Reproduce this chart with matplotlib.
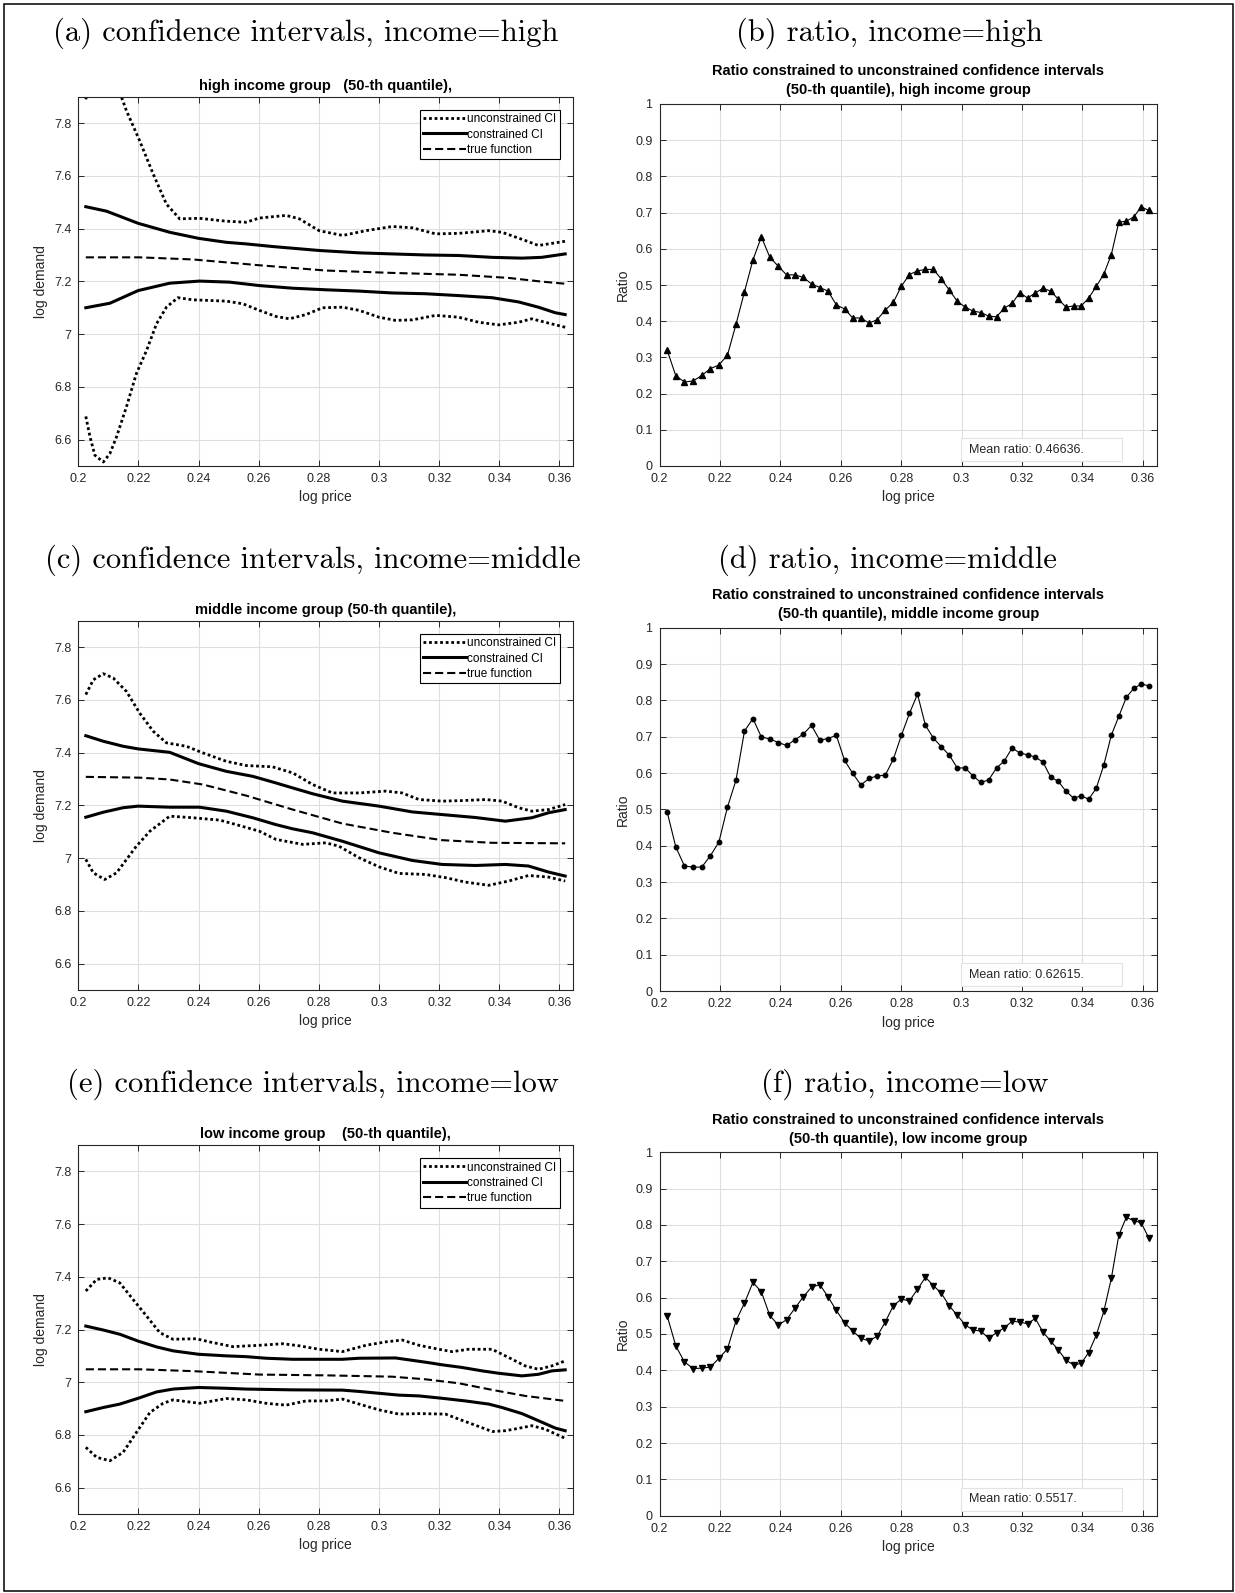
import numpy as np
import matplotlib
matplotlib.use("Agg")
import matplotlib.pyplot as plt
from matplotlib.ticker import FuncFormatter
from matplotlib.patches import Rectangle

plt.rcParams['font.family'] = ['Liberation Sans', 'DejaVu Sans']

# ---- confidence bands (log demand vs log price), knots read per curve ----
hi_cu_x = [0.2025, 0.2094, 0.2199, 0.2304, 0.2400, 0.2492, 0.2558, 0.2646, 0.2801, 0.2934, 0.3044, 0.3155, 0.3265, 0.3376, 0.3475, 0.3541, 0.3619]
hi_cu_y = [7.483, 7.466, 7.420, 7.386, 7.363, 7.348, 7.342, 7.332, 7.317, 7.308, 7.304, 7.300, 7.298, 7.291, 7.288, 7.291, 7.304]
hi_cl_x = [0.2025, 0.2105, 0.2199, 0.2304, 0.2403, 0.2503, 0.2602, 0.2713, 0.2823, 0.2934, 0.3044, 0.3155, 0.3265, 0.3376, 0.3464, 0.3530, 0.3586, 0.3619]
hi_cl_y = [7.100, 7.117, 7.165, 7.193, 7.201, 7.197, 7.184, 7.174, 7.168, 7.163, 7.156, 7.153, 7.146, 7.138, 7.122, 7.102, 7.081, 7.074]
hi_tf_x = [0.2025, 0.2204, 0.2381, 0.2602, 0.2823, 0.3044, 0.3265, 0.3431, 0.3541, 0.3619]
hi_tf_y = [7.291, 7.291, 7.283, 7.261, 7.241, 7.232, 7.225, 7.213, 7.199, 7.191]
hi_uu_x = [0.2025, 0.2050, 0.2090, 0.2120, 0.2144, 0.2160, 0.2204, 0.2249, 0.2293, 0.2337, 0.2403, 0.2492, 0.2558, 0.2602, 0.2691, 0.2735, 0.2801, 0.2879, 0.2956, 0.3044, 0.3111, 0.3188, 0.3265, 0.3365, 0.3409, 0.3486, 0.3530, 0.3575, 0.3619]
hi_uu_y = [7.890, 8.050, 8.100, 8.000, 7.897, 7.847, 7.733, 7.607, 7.493, 7.437, 7.439, 7.428, 7.424, 7.440, 7.450, 7.437, 7.392, 7.374, 7.392, 7.408, 7.403, 7.380, 7.382, 7.392, 7.386, 7.355, 7.336, 7.344, 7.352]
hi_ul_x = [0.2025, 0.2039, 0.2055, 0.2083, 0.2105, 0.2127, 0.2160, 0.2193, 0.2227, 0.2260, 0.2293, 0.2331, 0.2381, 0.2492, 0.2547, 0.2602, 0.2657, 0.2702, 0.2757, 0.2812, 0.2879, 0.2934, 0.3000, 0.3055, 0.3111, 0.3188, 0.3265, 0.3331, 0.3398, 0.3464, 0.3508, 0.3552, 0.3619]
hi_ul_y = [6.688, 6.610, 6.541, 6.515, 6.547, 6.610, 6.724, 6.850, 6.938, 7.039, 7.102, 7.138, 7.130, 7.125, 7.115, 7.090, 7.067, 7.058, 7.074, 7.100, 7.102, 7.090, 7.064, 7.052, 7.054, 7.071, 7.064, 7.045, 7.035, 7.045, 7.058, 7.045, 7.026]

mid_cu_x = [0.2025, 0.2083, 0.2149, 0.2199, 0.2304, 0.2400, 0.2492, 0.2580, 0.2657, 0.2713, 0.2779, 0.2878, 0.3000, 0.3111, 0.3210, 0.3320, 0.3420, 0.3508, 0.3564, 0.3619]
mid_cu_y = [7.464, 7.443, 7.424, 7.414, 7.401, 7.358, 7.329, 7.310, 7.285, 7.266, 7.244, 7.216, 7.197, 7.175, 7.165, 7.154, 7.140, 7.153, 7.172, 7.184]
mid_cl_x = [0.2025, 0.2083, 0.2149, 0.2199, 0.2304, 0.2403, 0.2492, 0.2580, 0.2657, 0.2713, 0.2779, 0.2878, 0.3000, 0.3111, 0.3210, 0.3320, 0.3420, 0.3497, 0.3564, 0.3619]
mid_cl_y = [7.155, 7.174, 7.191, 7.197, 7.193, 7.193, 7.178, 7.153, 7.127, 7.111, 7.096, 7.064, 7.020, 6.991, 6.976, 6.972, 6.976, 6.970, 6.947, 6.932]
mid_tf_x = [0.2025, 0.2204, 0.2304, 0.2414, 0.2558, 0.2713, 0.2878, 0.3044, 0.3210, 0.3376, 0.3619]
mid_tf_y = [7.308, 7.305, 7.298, 7.279, 7.237, 7.184, 7.131, 7.096, 7.068, 7.058, 7.056]
mid_uu_x = [0.2025, 0.2050, 0.2083, 0.2116, 0.2160, 0.2204, 0.2249, 0.2293, 0.2359, 0.2414, 0.2492, 0.2558, 0.2646, 0.2713, 0.2779, 0.2845, 0.2934, 0.3022, 0.3077, 0.3133, 0.3210, 0.3276, 0.3354, 0.3409, 0.3464, 0.3508, 0.3564, 0.3619]
mid_uu_y = [7.620, 7.676, 7.699, 7.683, 7.632, 7.550, 7.481, 7.437, 7.424, 7.399, 7.367, 7.351, 7.346, 7.323, 7.279, 7.247, 7.247, 7.254, 7.247, 7.222, 7.216, 7.218, 7.222, 7.216, 7.191, 7.178, 7.184, 7.203]
mid_ul_x = [0.2025, 0.2050, 0.2088, 0.2127, 0.2193, 0.2238, 0.2304, 0.2381, 0.2470, 0.2525, 0.2602, 0.2657, 0.2746, 0.2823, 0.2867, 0.2934, 0.3000, 0.3066, 0.3155, 0.3221, 0.3287, 0.3365, 0.3431, 0.3497, 0.3564, 0.3619]
mid_ul_y = [6.995, 6.944, 6.919, 6.944, 7.045, 7.102, 7.159, 7.153, 7.144, 7.127, 7.102, 7.071, 7.052, 7.058, 7.045, 7.001, 6.967, 6.942, 6.938, 6.926, 6.909, 6.897, 6.913, 6.934, 6.928, 6.913]

lo_cu_x = [0.2025, 0.2083, 0.2138, 0.2199, 0.2260, 0.2315, 0.2400, 0.2492, 0.2558, 0.2624, 0.2713, 0.2801, 0.2878, 0.2934, 0.3055, 0.3111, 0.3166, 0.3210, 0.3276, 0.3343, 0.3398, 0.3475, 0.3530, 0.3575, 0.3619]
lo_cu_y = [7.213, 7.198, 7.182, 7.156, 7.134, 7.119, 7.106, 7.100, 7.097, 7.091, 7.087, 7.087, 7.087, 7.091, 7.092, 7.083, 7.074, 7.066, 7.056, 7.043, 7.034, 7.024, 7.030, 7.043, 7.047]
lo_cl_x = [0.2025, 0.2083, 0.2138, 0.2199, 0.2260, 0.2315, 0.2400, 0.2492, 0.2558, 0.2713, 0.2878, 0.2934, 0.3000, 0.3066, 0.3133, 0.3210, 0.3287, 0.3365, 0.3409, 0.3475, 0.3530, 0.3586, 0.3619]
lo_cl_y = [6.888, 6.904, 6.917, 6.939, 6.963, 6.974, 6.980, 6.977, 6.974, 6.971, 6.970, 6.965, 6.958, 6.951, 6.948, 6.939, 6.929, 6.917, 6.904, 6.881, 6.854, 6.826, 6.816]
lo_tf_x = [0.2025, 0.2204, 0.2381, 0.2602, 0.2823, 0.3044, 0.3155, 0.3265, 0.3376, 0.3486, 0.3619]
lo_tf_y = [7.049, 7.049, 7.042, 7.029, 7.026, 7.021, 7.011, 6.996, 6.971, 6.948, 6.929]
lo_uu_x = [0.2025, 0.2061, 0.2099, 0.2138, 0.2182, 0.2227, 0.2271, 0.2315, 0.2392, 0.2436, 0.2514, 0.2602, 0.2680, 0.2735, 0.2801, 0.2878, 0.2956, 0.3022, 0.3077, 0.3133, 0.3199, 0.3243, 0.3298, 0.3376, 0.3420, 0.3486, 0.3530, 0.3575, 0.3619]
lo_uu_y = [7.346, 7.390, 7.396, 7.377, 7.314, 7.251, 7.188, 7.163, 7.165, 7.153, 7.135, 7.140, 7.146, 7.138, 7.125, 7.116, 7.140, 7.153, 7.160, 7.140, 7.125, 7.116, 7.125, 7.125, 7.100, 7.062, 7.049, 7.062, 7.081]
lo_ul_x = [0.2025, 0.2061, 0.2105, 0.2149, 0.2193, 0.2238, 0.2282, 0.2315, 0.2403, 0.2492, 0.2558, 0.2624, 0.2691, 0.2757, 0.2823, 0.2878, 0.2934, 0.3000, 0.3066, 0.3133, 0.3221, 0.3265, 0.3320, 0.3376, 0.3420, 0.3464, 0.3508, 0.3552, 0.3619]
lo_ul_y = [6.753, 6.715, 6.702, 6.734, 6.809, 6.885, 6.920, 6.933, 6.920, 6.938, 6.933, 6.920, 6.913, 6.929, 6.929, 6.936, 6.917, 6.895, 6.879, 6.881, 6.879, 6.860, 6.837, 6.813, 6.816, 6.825, 6.835, 6.822, 6.787]

# ---- ratio of constrained to unconstrained CI width on the price grid ----
price_grid = np.linspace(1.2245, 1.4361, 61)
log_price = np.log(price_grid)

ratio_high = [0.320, 0.249, 0.232, 0.235, 0.250, 0.269, 0.279, 0.306, 0.391, 0.481,
              0.569, 0.633, 0.577, 0.552, 0.528, 0.528, 0.521, 0.503, 0.493, 0.483,
              0.445, 0.434, 0.409, 0.409, 0.395, 0.404, 0.431, 0.452, 0.497, 0.529,
              0.539, 0.543, 0.543, 0.516, 0.486, 0.455, 0.439, 0.428, 0.424, 0.414,
              0.412, 0.436, 0.449, 0.479, 0.464, 0.478, 0.491, 0.483, 0.461, 0.439,
              0.442, 0.442, 0.464, 0.496, 0.530, 0.584, 0.674, 0.676, 0.688, 0.716, 0.706]
ratio_mid = [0.493, 0.396, 0.344, 0.341, 0.341, 0.372, 0.410, 0.506, 0.580, 0.715,
             0.750, 0.699, 0.694, 0.684, 0.676, 0.691, 0.707, 0.731, 0.690, 0.695,
             0.704, 0.635, 0.599, 0.567, 0.585, 0.592, 0.594, 0.638, 0.704, 0.764,
             0.817, 0.731, 0.696, 0.672, 0.649, 0.614, 0.614, 0.592, 0.574, 0.581,
             0.614, 0.633, 0.669, 0.655, 0.650, 0.644, 0.630, 0.589, 0.577, 0.550,
             0.531, 0.537, 0.528, 0.558, 0.622, 0.704, 0.756, 0.808, 0.833, 0.845, 0.840]
ratio_low = [0.550, 0.467, 0.423, 0.405, 0.406, 0.409, 0.433, 0.459, 0.536, 0.585,
             0.642, 0.616, 0.551, 0.525, 0.539, 0.571, 0.602, 0.629, 0.636, 0.602,
             0.565, 0.531, 0.508, 0.488, 0.481, 0.494, 0.533, 0.578, 0.596, 0.591,
             0.623, 0.656, 0.633, 0.612, 0.577, 0.552, 0.525, 0.511, 0.508, 0.488,
             0.504, 0.517, 0.535, 0.533, 0.528, 0.543, 0.505, 0.481, 0.456, 0.428,
             0.415, 0.419, 0.449, 0.497, 0.562, 0.653, 0.772, 0.821, 0.812, 0.806, 0.765]
mean_labels = ["Mean ratio: 0.46636.", "Mean ratio: 0.62615.", "Mean ratio: 0.5517."]

groups = ["high", "middle", "low"]
ci_titles = ["high income group   (50-th quantile),",
             "middle income group (50-th quantile),",
             "low income group    (50-th quantile),"]
panel_left = ["(a) confidence intervals, income=high",
              "(c) confidence intervals, income=middle",
              "(e) confidence intervals, income=low"]
panel_right = ["(b) ratio, income=high", "(d) ratio, income=middle", "(f) ratio, income=low"]

bands = [
    (hi_uu_x, hi_uu_y, hi_ul_x, hi_ul_y, hi_cu_x, hi_cu_y, hi_cl_x, hi_cl_y, hi_tf_x, hi_tf_y),
    (mid_uu_x, mid_uu_y, mid_ul_x, mid_ul_y, mid_cu_x, mid_cu_y, mid_cl_x, mid_cl_y, mid_tf_x, mid_tf_y),
    (lo_uu_x, lo_uu_y, lo_ul_x, lo_ul_y, lo_cu_x, lo_cu_y, lo_cl_x, lo_cl_y, lo_tf_x, lo_tf_y),
]
ratios = [ratio_high, ratio_mid, ratio_low]
markers = ['^', 'o', 'v']
marker_sizes = [4.5, 3.2, 4.5]

W, H = 1235, 1593
fig = plt.figure(figsize=(W / 100, H / 100), dpi=100)

# outer frame
fig.add_artist(Rectangle((4 / W, 2 / H), (W - 6) / W, (H - 6) / H, transform=fig.transFigure,
                         fill=False, edgecolor='black', linewidth=1.1))

fmt = FuncFormatter(lambda v, p: f"{v:g}")
grey = '#262626'
dotted = (0, (1, 1))
dashed = (0, (3.9, 1.9))


def style_axes(ax):
    ax.grid(True, color='#dedede', linewidth=0.8)
    ax.set_axisbelow(True)
    ax.tick_params(direction='in', top=True, right=True, length=4, width=0.7,
                   colors=grey, labelsize=9, labelcolor=grey, pad=5)
    for s in ax.spines.values():
        s.set_color(grey)
        s.set_linewidth(0.8)
    ax.xaxis.set_major_formatter(fmt)
    ax.yaxis.set_major_formatter(fmt)
    ax.set_xlabel("log price", fontsize=10, color=grey)


# pixel boxes: (left, top, right, bottom)
left_boxes = [(78.3, 96.7, 573, 466), (78.3, 620.7, 573, 990), (78.3, 1145, 573, 1514)]
right_boxes = [(659.5, 104, 1157, 466), (659.5, 627.7, 1157, 991), (659.5, 1152.3, 1157, 1515.7)]
title_rows = [33.5, 560, 1084]
title_left_x = [306, 313, 313]
title_right_x = [889, 887, 905]


def px_axes(box):
    l, t, r, b = box
    return fig.add_axes([l / W, 1 - b / H, (r - l) / W, (b - t) / H])


for i in range(3):
    uux, uuy, ulx, uly, cux, cuy, clx, cly, tfx, tfy = bands[i]

    ax = px_axes(left_boxes[i])
    ax.plot(uux, uuy, color='black', linestyle=dotted, linewidth=2.0, label='unconstrained CI')
    ax.plot(cux, cuy, color='black', linestyle='-', linewidth=2.2, label='constrained CI')
    ax.plot(tfx, tfy, color='black', linestyle=dashed, linewidth=1.5, label='true function')
    ax.plot(ulx, uly, color='black', linestyle=dotted, linewidth=2.0)
    ax.plot(clx, cly, color='black', linestyle='-', linewidth=2.2)
    ax.set_xlim(0.2, 0.3645)
    ax.set_ylim(6.5, 7.9)
    ax.set_xticks(np.arange(0.2, 0.3601, 0.02))
    ax.set_yticks(np.arange(6.6, 7.81, 0.2))
    style_axes(ax)
    ax.set_ylabel("log demand", fontsize=10, color=grey)
    ax.set_title(ci_titles[i], fontsize=10.5, fontweight='bold', pad=5)
    leg = ax.legend(loc='upper right', fontsize=8.5, handlelength=3.6, handletextpad=0.15,
                    labelspacing=0.28, borderpad=0.3, borderaxespad=1.1, fancybox=False,
                    framealpha=1, edgecolor='black')
    leg.get_frame().set_linewidth(0.8)

    ax2 = px_axes(right_boxes[i])
    ax2.plot(log_price, ratios[i], color='black', linewidth=0.8, marker=markers[i],
             markersize=marker_sizes[i], markerfacecolor='black', markeredgecolor='black')
    ax2.set_xlim(0.2, 0.3647)
    ax2.set_ylim(0, 1)
    ax2.set_xticks(np.arange(0.2, 0.3601, 0.02))
    ax2.set_yticks(np.arange(0, 1.01, 0.1))
    style_axes(ax2)
    ax2.set_ylabel("Ratio", fontsize=10, color=grey)
    ax2.set_title("Ratio constrained to unconstrained confidence intervals\n"
                  f"(50-th quantile), {groups[i]} income group",
                  fontsize=10.5, fontweight='bold', pad=7, linespacing=1.45)
    ax2.add_patch(Rectangle((0.607, 0.014), 0.323, 0.063, transform=ax2.transAxes,
                            facecolor='white', edgecolor='#e3e3e3', linewidth=0.8, zorder=3))
    ax2.text(0.622, 0.045, mean_labels[i], transform=ax2.transAxes, fontsize=9,
             va='center', ha='left', color=grey, zorder=4)

    y = 1 - title_rows[i] / H
    fig.text(title_left_x[i] / W, y, panel_left[i], family='cmr10', fontsize=22,
             ha='center', va='center')
    fig.text(title_right_x[i] / W, y, panel_right[i], family='cmr10', fontsize=22,
             ha='center', va='center')

fig.savefig("out.png", dpi=100)
